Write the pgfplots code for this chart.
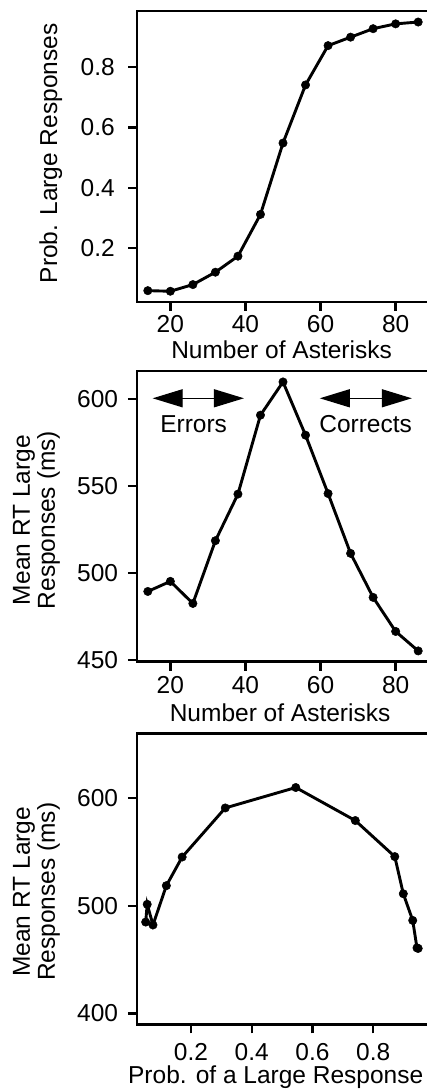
\documentclass[border=0pt]{standalone}
\usepackage{fontspec}
\setmainfont{Liberation Sans}
\usepackage{pgfplots}
\pgfplotsset{compat=1.18}
\usetikzlibrary{arrows.meta}

% probability of a "large" response vs. number of asterisks
\pgfplotstableread{
n  p
14 0.060
20 0.058
26 0.080
32 0.121
38 0.174
44 0.312
50 0.548
56 0.740
62 0.870
68 0.898
74 0.926
80 0.942
86 0.948
}\probdata

% mean RT of large responses vs. number of asterisks
\pgfplotstableread{
n  rt
14 489.4
20 495.2
26 482.5
32 518.6
38 545.4
44 590.8
50 609.9
56 579.3
62 545.7
68 511.3
74 486.0
80 466.4
86 455.2
}\rtdata

% mean RT vs. probability of a large response
\pgfplotstableread{
p     rt
0.051 485.0
0.056 501.5
0.075 482.3
0.119 518.8
0.171 545.4
0.313 591.0
0.545 610.0
0.741 579.3
0.871 545.8
0.899 511.3
0.930 486.5
0.944 461.0
0.948 460.5
}\latencydata

\tikzset{
  rarrow/.style={line width=1.3pt,
    {Triangle[length=30pt,width=18pt]}-{Triangle[length=30pt,width=18pt]}},
}

\pgfplotsset{
  rpanel/.style={
    scale only axis,
    width=292pt,
    anchor=south west,
    clip=false,
    font=\fontsize{24.5}{25}\selectfont,
    axis line style={line width=2.6pt},
    tick align=outside,
    major tick length=9pt,
    every tick/.style={black, line width=2.4pt},
    xtick pos=lower,
    ytick pos=left,
    /pgf/number format/assume math mode=true,
    xticklabel style={anchor=base, inner sep=0pt},
    yticklabel style={anchor=east, inner sep=0pt},
    xlabel style={anchor=base, inner sep=0pt},
    ylabel style={anchor=center, inner sep=0pt, align=center},
  },
  rline/.style={black, line width=2.9pt, mark=*, mark size=4.2pt,
    mark options={line width=0.5pt, fill=black}},
}

\begin{document}
\begin{tikzpicture}

% top panel
\begin{axis}[rpanel,
  at={(137pt,790pt)}, height=291pt,
  xmin=11.12, xmax=88.88, ymin=0.0225, ymax=0.9845,
  xtick={20,40,60,80},
  ytick={0.2,0.4,0.6,0.8},
  yticklabels={0.2,0.4,0.6,0.8},
  xticklabel style={yshift=-21.7pt},
  yticklabel style={xshift=-13pt},
  xlabel={Number of Asterisks},
  xlabel style={at={(axis description cs:0.495,-0.1935)}},
  ylabel={Prob. Large Responses},
  ylabel style={at={(axis description cs:-0.295,0.511)}},
]
\addplot[rline] table[x=n, y=p] {\probdata};
\end{axis}

% middle panel
\begin{axis}[rpanel,
  at={(137pt,430.3pt)}, height=290.7pt,
  xmin=11.12, xmax=88.88, ymin=449, ymax=616.2,
  xtick={20,40,60,80},
  ytick={450,500,550,600},
  xticklabel style={yshift=-23.3pt},
  yticklabel style={xshift=-9.7pt},
  xlabel={Number of Asterisks},
  xlabel style={at={(axis description cs:0.49,-0.2064)}},
  ylabel={Mean RT Large\\Responses (ms)},
  ylabel style={at={(axis description cs:-0.344,0.487)}},
]
\addplot[rline] table[x=n, y=rt] {\rtdata};
\draw[rarrow] (axis cs:15.3,600.5) -- (axis cs:39.6,600.5);
\draw[rarrow] (axis cs:59.8,600.5) -- (axis cs:84.3,600.5);
\node[anchor=base, inner sep=0pt] at (axis cs:26.2,580.9) {Errors};
\node[anchor=base, inner sep=0pt] at (axis cs:72.0,580.9) {Corrects};
\end{axis}

% bottom panel
\begin{axis}[rpanel,
  at={(137pt,67.7pt)}, height=290.6pt,
  xmin=0.0224, xmax=0.9836, ymin=390, ymax=660,
  xtick={0.2,0.4,0.6,0.8},
  xticklabels={0.2,0.4,0.6,0.8},
  ytick={400,500,600},
  xticklabel style={yshift=-27pt},
  yticklabel style={xshift=-9.7pt},
  xlabel={Prob. of a Large Response},
  xlabel style={at={(axis description cs:0.475,-0.203)}},
  ylabel={Mean RT Large\\Responses (ms)},
  ylabel style={at={(axis description cs:-0.344,0.456)}},
]
\addplot[rline] table[x=p, y=rt] {\latencydata};
\end{axis}

\pgfresetboundingbox
\path[use as bounding box] (0,0) rectangle (427pt,1092pt);
\end{tikzpicture}
\end{document}
